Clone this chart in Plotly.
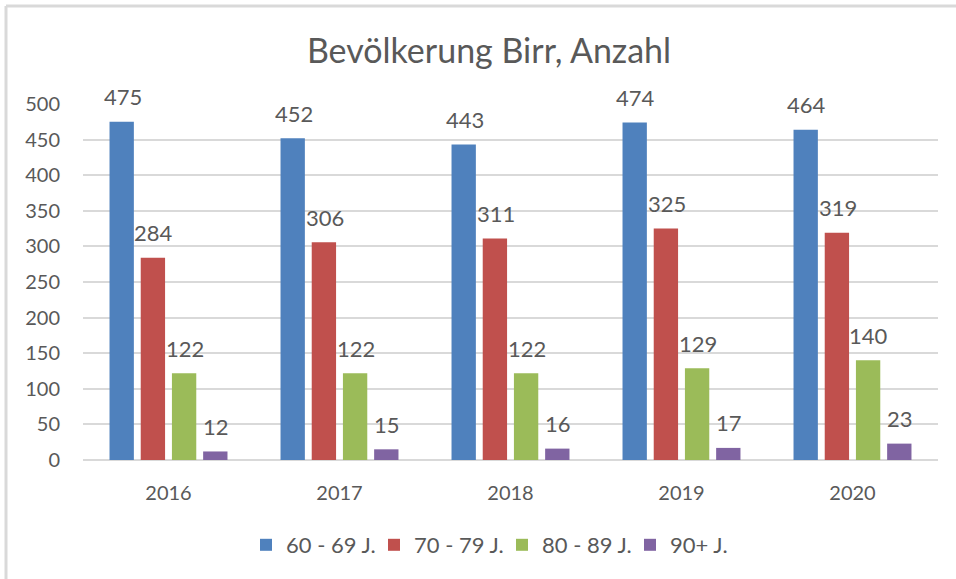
import plotly.graph_objects as go

years = ["2016", "2017", "2018", "2019", "2020"]
series_names = ["60 - 69 J.", "70 - 79 J.", "80 - 89 J.", "90+ J."]
v60 = [475, 452, 443, 474, 464]
v70 = [284, 306, 311, 325, 319]
v80 = [122, 122, 122, 129, 140]
v90 = [12, 15, 16, 17, 23]
colors = ["#4F81BD", "#C0504D", "#9BBB59", "#8064A2"]
y_ticks = [0, 50, 100, 150, 200, 250, 300, 350, 400, 450, 500]

TEXT = "#595959"
FONT = "Lato, 'Open Sans', sans-serif"

all_values = [v60, v70, v80, v90]

fig = go.Figure()
for name, vals, col in zip(series_names, all_values, colors):
    fig.add_trace(go.Bar(x=years, y=vals, name=name, marker=dict(color=col, line=dict(width=0))))

# data labels as annotations above bars (category axis: index coordinates)
step = 31
for i, vals in enumerate(all_values):
    for k, v in enumerate(vals):
        fig.add_annotation(x=k, y=v, xref="x", yref="y", text=str(v), showarrow=False,
                           xshift=(i - 1.5) * step + 0.5, yshift=25,
                           font=dict(size=22, color=TEXT, family=FONT))

# top/left chart border
fig.add_shape(type="line", xref="paper", yref="paper",
              x0=(6 - 83) / 855, x1=1.2, y0=(460 - 6) / 356, y1=(460 - 6) / 356,
              line=dict(color="#d9d9d9", width=3))
fig.add_shape(type="line", xref="paper", yref="paper",
              x0=(6 - 83) / 855, x1=(6 - 83) / 855, y0=(460 - 6) / 356, y1=-0.5,
              line=dict(color="#d9d9d9", width=3))

fig.update_layout(
    width=956, height=579,
    margin=dict(l=83, r=18, t=104, b=119, autoexpand=False),
    paper_bgcolor="white", plot_bgcolor="white",
    barmode="group", bargap=0.27, bargroupgap=0.22,
    title=dict(text="Bevölkerung Birr, Anzahl", x=(489) / 956, xanchor="center",
               y=1 - 51 / 579, yanchor="middle",
               font=dict(size=34, color=TEXT, family=FONT)),
    font=dict(family=FONT, color=TEXT, size=20),
    legend=dict(orientation="h", x=(502 - 83) / 855, xanchor="center",
                y=-(545 - 460) / 356, yanchor="middle",
                font=dict(size=22, color=TEXT, family=FONT),
                itemwidth=30, entrywidth=83, entrywidthmode="pixels"),
    xaxis=dict(type="category", categoryorder="array", categoryarray=years,
               range=[-0.5, len(years) - 0.5],
               showgrid=False, showline=False,
               ticks="outside", ticklen=15, tickcolor="rgba(0,0,0,0)",
               tickfont=dict(size=20, color=TEXT)),
    yaxis=dict(range=[0, 500], tickvals=y_ticks, showgrid=True, gridcolor="#d9d9d9",
               gridwidth=2, zeroline=True, zerolinecolor="#d9d9d9", zerolinewidth=2,
               ticks="outside", ticklen=18, tickcolor="rgba(0,0,0,0)",
               tickfont=dict(size=20, color=TEXT)),
)

fig.write_html("out.html", config={"displayModeBar": False},
               post_script="document.body.style.margin='0';")
